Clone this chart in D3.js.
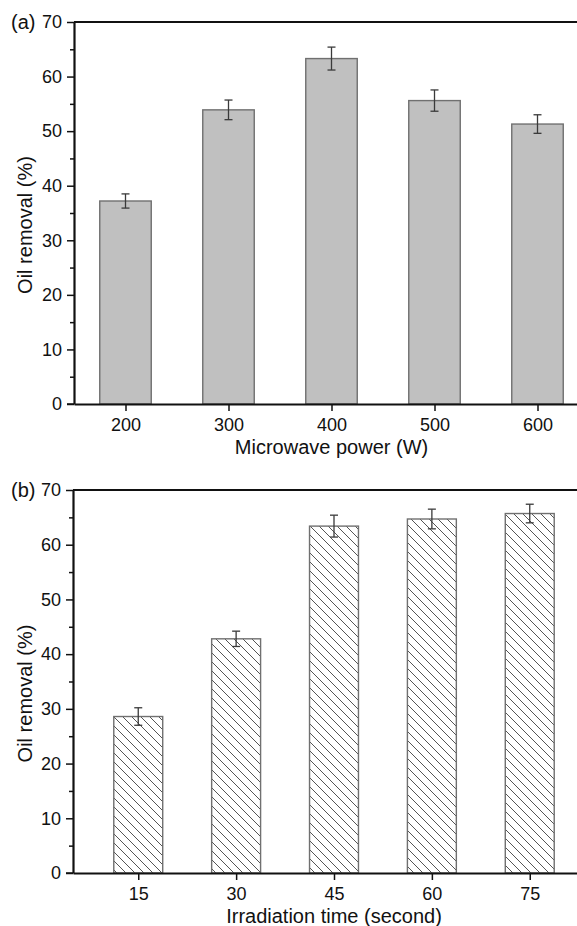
<!DOCTYPE html>
<html>
<head>
<meta charset="utf-8">
<script src="https://cdn.jsdelivr.net/npm/d3@7"></script>
<style>
  body { margin: 0; background: #fff; }
  svg { display: block; font-family: "Liberation Sans", Arial, sans-serif; }
</style>
</head>
<body>
<script>
// panel (a): microwave power
const powerLevels = [200, 300, 400, 500, 600]
const powerRemoval = [37.2, 53.9, 63.3, 55.6, 51.3]
const powerError = [1.3, 1.8, 2.1, 1.95, 1.7]

// panel (b): irradiation time
const timeLevels = [15, 30, 45, 60, 75]
const timeRemoval = [28.6, 42.8, 63.4, 64.7, 65.7]
const timeError = [1.6, 1.4, 2.0, 1.8, 1.7]

const yMajor = [0, 10, 20, 30, 40, 50, 60, 70]
const yMinor = [5, 15, 25, 35, 45, 55, 65]

const width = 577
const height = 926

var svg = d3.select("body").append("svg")
    .attr("width", width)
    .attr("height", height)

var defs = svg.append("defs")
defs.append("pattern")
    .attr("id", "hatch")
    .attr("patternUnits", "userSpaceOnUse")
    .attr("width", 9)
    .attr("height", 9)
  .append("path")
    .attr("d", "M0,0 L9,9 M-1,8 L1,10 M8,-1 L10,1")
    .attr("stroke", "#555")
    .attr("stroke-width", 1)

function drawPanel(opts) {
    var g = svg.append("g")

    var x = d3.scaleLinear().domain(opts.xDomain).range(opts.xRange)
    var y = d3.scaleLinear().domain([0, 70]).range([opts.bottom, opts.top])
    var bw = x(opts.xDomain[0] + opts.barUnits) - x(opts.xDomain[0])

    var rows = opts.levels.map((d, i) => ({ k: d, v: opts.values[i], e: opts.errors[i] }))

    g.selectAll("rect.bar")
        .data(rows)
        .enter()
        .append("rect")
        .attr("class", "bar")
        .attr("x", d => x(d.k) - bw / 2)
        .attr("width", bw)
        .attr("y", d => y(d.v))
        .attr("height", d => y(0) - y(d.v))
        .style("fill", opts.fill)
        .style("stroke", opts.stroke)
        .style("stroke-width", 1.4)

    // error bars
    var eb = g.selectAll("g.err")
        .data(rows)
        .enter()
        .append("g")
        .attr("class", "err")
        .style("stroke", "#3a3a3a")
        .style("stroke-width", 1.3)
    eb.append("line")
        .attr("x1", d => x(d.k)).attr("x2", d => x(d.k))
        .attr("y1", d => y(d.v + d.e)).attr("y2", d => y(d.v - d.e))
    eb.append("line")
        .attr("x1", d => x(d.k) - 4).attr("x2", d => x(d.k) + 4)
        .attr("y1", d => y(d.v + d.e)).attr("y2", d => y(d.v + d.e))
    eb.append("line")
        .attr("x1", d => x(d.k) - 4).attr("x2", d => x(d.k) + 4)
        .attr("y1", d => y(d.v - d.e)).attr("y2", d => y(d.v - d.e))

    // top frame
    g.append("line")
        .attr("x1", opts.xRange[0]).attr("x2", opts.xRange[1])
        .attr("y1", y(70)).attr("y2", y(70))
        .style("stroke", "#111")
        .style("stroke-width", 2.2)

    // minor y ticks
    g.append("g")
        .attr("transform", `translate(${opts.xRange[0]},0)`)
        .call(d3.axisLeft(y).tickValues(yMinor).tickSize(4).tickSizeOuter(0).tickFormat(""))
        .call(a => a.select(".domain").remove())
        .selectAll("line").style("stroke", "#111").style("stroke-width", 1.5)

    var ya = g.append("g")
        .attr("transform", `translate(${opts.xRange[0]},0)`)
        .call(d3.axisLeft(y).tickValues(yMajor).tickSize(7).tickSizeOuter(0).tickPadding(5))
    ya.select(".domain").style("stroke", "#111").style("stroke-width", 2.2)
    ya.selectAll("line").style("stroke", "#111").style("stroke-width", 1.5)
    ya.selectAll("text").style("font-size", "18px").style("fill", "#111")

    var xa = g.append("g")
        .attr("transform", `translate(0,${opts.bottom})`)
        .call(d3.axisBottom(x).tickValues(opts.levels).tickSize(7).tickSizeOuter(0).tickPadding(7))
    xa.select(".domain").style("stroke", "#111").style("stroke-width", 2.2)
    xa.selectAll("line").style("stroke", "#111").style("stroke-width", 1.5)
    xa.selectAll("text").style("font-size", "18px").style("fill", "#111")

    // extend the zero line under the 0 tick
    g.append("line")
        .attr("x1", opts.xRange[0] - 7).attr("x2", opts.xRange[0])
        .attr("y1", opts.bottom).attr("y2", opts.bottom)
        .style("stroke", "#111").style("stroke-width", 1.5)

    g.append("text")
        .attr("x", (opts.xRange[0] + opts.xRange[1]) / 2)
        .attr("y", opts.bottom + 50)
        .attr("text-anchor", "middle")
        .style("font-size", "20px")
        .style("fill", "#111")
        .text(opts.xLabel)

    g.append("text")
        .attr("transform", `translate(32,${(opts.top + opts.bottom) / 2 + 12}) rotate(-90)`)
        .attr("text-anchor", "middle")
        .style("font-size", "20px")
        .style("fill", "#111")
        .text("Oil removal (%)")

    g.append("text")
        .attr("x", 11)
        .attr("y", y(70) + 7)
        .style("font-size", "20px")
        .style("fill", "#111")
        .text(opts.tag)
}

drawPanel({
    levels: powerLevels, values: powerRemoval, errors: powerError,
    xDomain: [150, 650], xRange: [74, 589], barUnits: 50,
    top: 22, bottom: 404,
    fill: "#c0c0c0", stroke: "#707070",
    xLabel: "Microwave power (W)", tag: "(a)"
})

drawPanel({
    levels: timeLevels, values: timeRemoval, errors: timeError,
    xDomain: [5, 85], xRange: [73, 595], barUnits: 7.5,
    top: 490, bottom: 873,
    fill: "url(#hatch)", stroke: "#707070",
    xLabel: "Irradiation time (second)", tag: "(b)"
})
</script>
</body>
</html>
